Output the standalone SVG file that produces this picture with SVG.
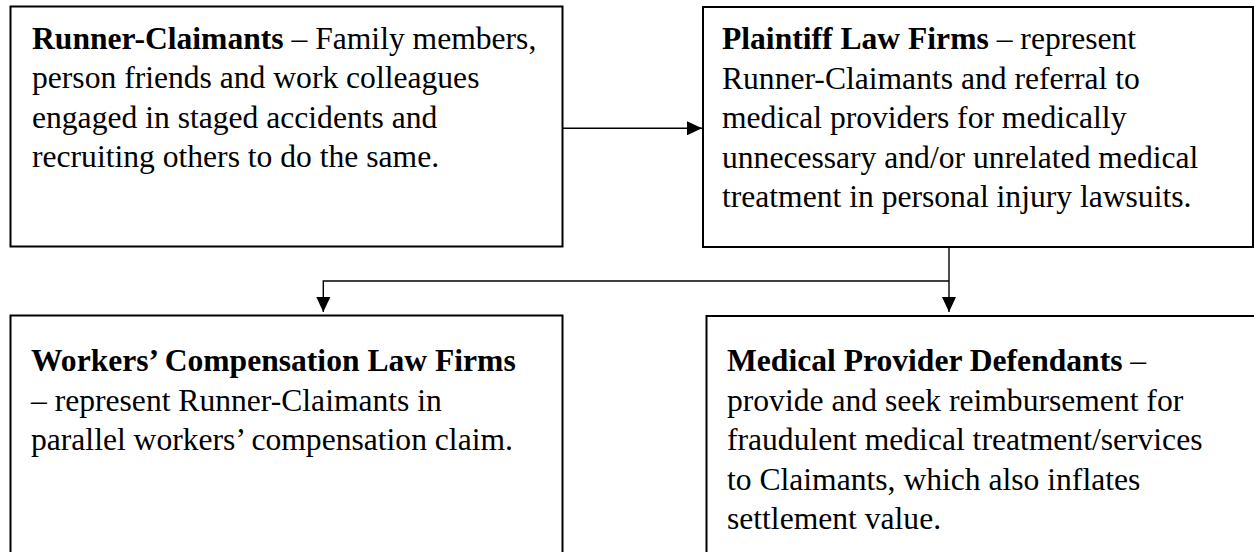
<svg xmlns="http://www.w3.org/2000/svg" width="1254" height="552" viewBox="0 0 1254 552">
<style>
.box{fill:#fff;stroke:#000;stroke-width:2}
.t{font-family:"Liberation Serif","Times New Roman",serif;font-size:31.6px;fill:#000}
.b{font-weight:bold}
.c{fill:none;stroke:#000;stroke-width:1.4}
</style>
<defs>
<marker id="ah" viewBox="0 0 15 14" refX="15" refY="7" markerWidth="15" markerHeight="14" markerUnits="userSpaceOnUse" orient="auto">
<path d="M0,0 L15,7 L0,14 Z" fill="#000"/>
</marker>
</defs>
<rect width="1254" height="552" fill="#fff"/>
<g id="runner-claimants">
<rect class="box" x="10.5" y="6.5" width="552" height="240"/>
<text class="t" x="32" y="48.5"><tspan class="b">Runner-Claimants</tspan> – Family members,</text>
<text class="t" x="32" y="88">person friends and work colleagues</text>
<text class="t" x="32" y="127.5">engaged in staged accidents and</text>
<text class="t" x="32" y="167">recruiting others to do the same.</text>
</g>
<g id="plaintiff-law-firms">
<rect class="box" x="703" y="7" width="550" height="240"/>
<text class="t" x="722" y="49"><tspan class="b">Plaintiff Law Firms</tspan> – represent</text>
<text class="t" x="722" y="88.5">Runner-Claimants and referral to</text>
<text class="t" x="722" y="128">medical providers for medically</text>
<text class="t" x="722" y="167.5">unnecessary and/or unrelated medical</text>
<text class="t" x="722" y="207">treatment in personal injury lawsuits.</text>
</g>
<g id="workers-comp-law-firms">
<rect class="box" x="10.5" y="315.5" width="552" height="260"/>
<text class="t b" x="31" y="371">Workers’ Compensation Law Firms</text>
<text class="t" x="31" y="410.5">– represent Runner-Claimants in</text>
<text class="t" x="31" y="450">parallel workers’ compensation claim.</text>
</g>
<g id="medical-provider-defendants">
<rect class="box" x="706.5" y="316" width="560" height="260"/>
<text class="t" x="727" y="371"><tspan class="b">Medical Provider Defendants</tspan> –</text>
<text class="t" x="727" y="410.5">provide and seek reimbursement for</text>
<text class="t" x="727" y="450">fraudulent medical treatment/services</text>
<text class="t" x="727" y="489.5">to Claimants, which also inflates</text>
<text class="t" x="727" y="529">settlement value.</text>
</g>
<g id="connectors">
<line class="c" x1="563" y1="128.3" x2="702" y2="128.3" marker-end="url(#ah)"/>
<line class="c" x1="949" y1="248" x2="949" y2="312" marker-end="url(#ah)"/>
<polyline class="c" points="949,281 323.3,281 323.3,312" marker-end="url(#ah)"/>
</g>
</svg>
